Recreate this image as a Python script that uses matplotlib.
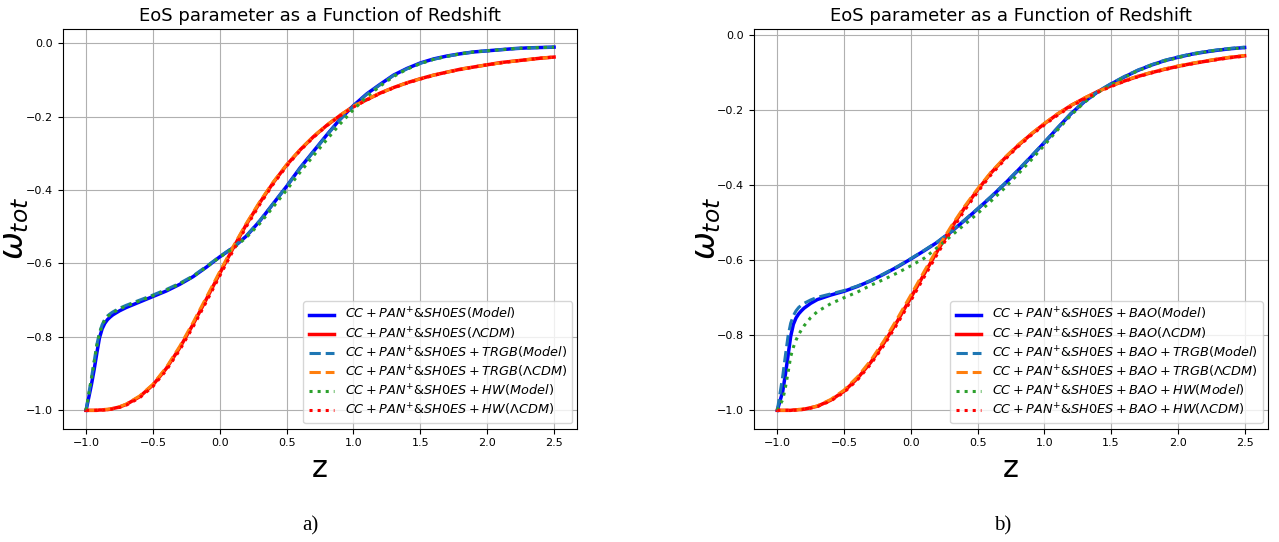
"""EoS parameter w_tot(z) for the two dataset combinations."""

import matplotlib
matplotlib.use("Agg")
import matplotlib.pyplot as plt

# redshift grid shared by every curve (denser near z = -1)
z = [-1.00, -0.98, -0.96, -0.94, -0.92, -0.90, -0.88, -0.86, -0.84, -0.82,
     -0.80, -0.75, -0.70, -0.60, -0.50, -0.40, -0.30, -0.20, -0.10, 0.00,
     0.10, 0.20, 0.30, 0.40, 0.50, 0.60, 0.70, 0.80, 0.90, 1.00,
     1.10, 1.20, 1.30, 1.40, 1.50, 1.60, 1.70, 1.80, 1.90, 2.00,
     2.10, 2.20, 2.30, 2.40, 2.50]

# panel a) CC + PAN+&SH0ES
w_a_model = [-1.000, -0.965, -0.930, -0.890, -0.845, -0.803, -0.778, -0.763, -0.753, -0.746,
             -0.740, -0.729, -0.720, -0.705, -0.690, -0.675, -0.657, -0.636, -0.610, -0.582,
             -0.557, -0.525, -0.484, -0.437, -0.390, -0.340, -0.295, -0.250, -0.207, -0.170,
             -0.138, -0.112, -0.087, -0.069, -0.054, -0.043, -0.035, -0.029, -0.024, -0.021,
             -0.018, -0.015, -0.013, -0.012, -0.011]
w_a_lcdm = [-1.000, -1.000, -1.000, -1.000, -1.000, -0.999, -0.999, -0.998, -0.998, -0.997,
            -0.995, -0.991, -0.984, -0.963, -0.931, -0.886, -0.830, -0.766, -0.697, -0.627,
            -0.558, -0.493, -0.434, -0.380, -0.332, -0.291, -0.255, -0.224, -0.197, -0.172,
            -0.154, -0.136, -0.121, -0.108, -0.097, -0.087, -0.079, -0.071, -0.065, -0.059,
            -0.053, -0.049, -0.045, -0.041, -0.038]
w_a_trgb_model = [-1.000, -0.955, -0.912, -0.868, -0.822, -0.789, -0.767, -0.752, -0.743, -0.737,
                  -0.732, -0.722, -0.714, -0.700, -0.686, -0.671, -0.654, -0.634, -0.608, -0.581,
                  -0.556, -0.524, -0.483, -0.437, -0.390, -0.341, -0.296, -0.251, -0.208, -0.171,
                  -0.139, -0.113, -0.088, -0.070, -0.055, -0.044, -0.036, -0.029, -0.024, -0.021,
                  -0.018, -0.015, -0.013, -0.012, -0.011]
w_a_trgb_lcdm = [-1.000, -1.000, -1.000, -1.000, -0.999, -0.999, -0.999, -0.998, -0.997, -0.996,
                 -0.995, -0.990, -0.983, -0.961, -0.929, -0.883, -0.826, -0.761, -0.692, -0.622,
                 -0.554, -0.490, -0.431, -0.378, -0.331, -0.290, -0.254, -0.223, -0.196, -0.172,
                 -0.153, -0.136, -0.121, -0.108, -0.097, -0.087, -0.079, -0.071, -0.065, -0.059,
                 -0.054, -0.049, -0.045, -0.041, -0.038]
w_a_hw_model = [-1.000, -0.957, -0.915, -0.870, -0.825, -0.791, -0.769, -0.754, -0.745, -0.739,
                -0.734, -0.724, -0.716, -0.702, -0.688, -0.673, -0.656, -0.636, -0.610, -0.583,
                -0.559, -0.529, -0.491, -0.446, -0.400, -0.352, -0.307, -0.263, -0.220, -0.181,
                -0.146, -0.117, -0.091, -0.071, -0.056, -0.044, -0.036, -0.029, -0.024, -0.021,
                -0.018, -0.015, -0.013, -0.012, -0.011]
w_a_hw_lcdm = [-1.000, -1.000, -1.000, -1.000, -1.000, -0.999, -0.999, -0.999, -0.998, -0.997,
               -0.996, -0.992, -0.986, -0.966, -0.935, -0.891, -0.836, -0.773, -0.704, -0.634,
               -0.565, -0.499, -0.439, -0.384, -0.335, -0.293, -0.257, -0.225, -0.198, -0.174,
               -0.155, -0.137, -0.122, -0.109, -0.098, -0.088, -0.079, -0.072, -0.065, -0.059,
               -0.054, -0.049, -0.045, -0.041, -0.038]

# panel b) CC + PAN+&SH0ES + BAO
w_b_model = [-1.000, -0.975, -0.950, -0.905, -0.855, -0.803, -0.771, -0.754, -0.743, -0.735,
             -0.728, -0.715, -0.705, -0.693, -0.683, -0.670, -0.655, -0.637, -0.618, -0.597,
             -0.575, -0.552, -0.525, -0.495, -0.464, -0.432, -0.398, -0.362, -0.325, -0.287,
             -0.248, -0.210, -0.178, -0.152, -0.131, -0.112, -0.095, -0.081, -0.069, -0.060,
             -0.052, -0.046, -0.041, -0.037, -0.034]
w_b_lcdm = [-1.000, -1.000, -1.000, -1.000, -1.000, -1.000, -0.999, -0.999, -0.998, -0.998,
            -0.997, -0.993, -0.989, -0.973, -0.949, -0.915, -0.872, -0.820, -0.762, -0.700,
            -0.637, -0.575, -0.516, -0.462, -0.413, -0.368, -0.330, -0.296, -0.265, -0.237,
            -0.211, -0.188, -0.169, -0.151, -0.136, -0.123, -0.111, -0.101, -0.092, -0.084,
            -0.077, -0.071, -0.065, -0.060, -0.056]
w_b_trgb_model = [-1.000, -0.955, -0.910, -0.855, -0.803, -0.768, -0.748, -0.735, -0.726, -0.720,
                  -0.715, -0.706, -0.699, -0.690, -0.681, -0.669, -0.654, -0.636, -0.617, -0.596,
                  -0.574, -0.551, -0.524, -0.494, -0.463, -0.431, -0.397, -0.361, -0.324, -0.286,
                  -0.247, -0.209, -0.177, -0.151, -0.130, -0.111, -0.094, -0.080, -0.068, -0.059,
                  -0.051, -0.045, -0.040, -0.036, -0.033]
w_b_trgb_lcdm = [-1.000, -1.000, -1.000, -1.000, -1.000, -0.999, -0.999, -0.999, -0.998, -0.997,
                 -0.996, -0.993, -0.988, -0.971, -0.946, -0.911, -0.867, -0.814, -0.755, -0.693,
                 -0.630, -0.569, -0.511, -0.458, -0.410, -0.366, -0.328, -0.294, -0.264, -0.236,
                 -0.210, -0.188, -0.168, -0.151, -0.136, -0.122, -0.110, -0.100, -0.091, -0.083,
                 -0.076, -0.070, -0.064, -0.059, -0.055]
w_b_hw_model = [-1.000, -0.985, -0.972, -0.940, -0.900, -0.857, -0.832, -0.813, -0.798, -0.786,
                -0.775, -0.753, -0.737, -0.716, -0.700, -0.685, -0.667, -0.651, -0.634, -0.615,
                -0.595, -0.566, -0.536, -0.506, -0.476, -0.443, -0.409, -0.372, -0.334, -0.294,
                -0.253, -0.214, -0.180, -0.154, -0.133, -0.113, -0.096, -0.082, -0.070, -0.061,
                -0.053, -0.046, -0.041, -0.037, -0.035]
w_b_hw_lcdm = [-1.000, -1.000, -1.000, -1.000, -1.000, -1.000, -1.000, -0.999, -0.999, -0.998,
               -0.997, -0.994, -0.990, -0.975, -0.952, -0.919, -0.877, -0.826, -0.769, -0.708,
               -0.645, -0.583, -0.524, -0.469, -0.419, -0.373, -0.334, -0.299, -0.268, -0.240,
               -0.214, -0.191, -0.171, -0.153, -0.138, -0.124, -0.112, -0.102, -0.093, -0.085,
               -0.078, -0.071, -0.066, -0.061, -0.057]

base_a = "$CC + PAN^{+}$&$SH0ES"
base_b = "$CC + PAN^{+}$&$SH0ES + BAO"

# (label suffix, color, linestyle, linewidth)
STYLES = [
    ("(Model)$", "blue", "-", 2.5),
    (r"(\Lambda CDM)$", "red", "-", 2.5),
    ("(Model)$", "tab:blue", "--", 2.2),
    (r"(\Lambda CDM)$", "tab:orange", "--", 2.2),
    ("(Model)$", "tab:green", ":", 2.2),
    (r"(\Lambda CDM)$", "red", ":", 2.2),
]


def draw_panel(ax, base, series):
    extras = ["", "", " + TRGB", " + TRGB", " + HW", " + HW"]
    for w, extra, (suffix, color, ls, lw) in zip(series, extras, STYLES):
        ax.plot(z, w, color=color, linestyle=ls, linewidth=lw,
                label=base + extra + suffix)
    ax.set_title("EoS parameter as a Function of Redshift", fontsize=13)
    ax.set_xlabel("z", fontsize=22)
    ax.set_ylabel(r"$\omega_{tot}$", fontsize=24)
    ax.yaxis.set_label_coords(-0.061, 0.5)
    ax.tick_params(labelsize=8)
    ax.grid(True)
    ax.legend(loc="lower right", fontsize=9.3, labelspacing=0.22,
              borderaxespad=0.4)


fig = plt.figure(figsize=(12.79, 5.42), dpi=100)
ax_a = fig.add_axes([0.049, 0.2094, 0.4025, 0.7371])
ax_b = fig.add_axes([0.5895, 0.2094, 0.4019, 0.7371])

draw_panel(ax_a, base_a, [w_a_model, w_a_lcdm, w_a_trgb_model,
                          w_a_trgb_lcdm, w_a_hw_model, w_a_hw_lcdm])
draw_panel(ax_b, base_b, [w_b_model, w_b_lcdm, w_b_trgb_model,
                          w_b_trgb_lcdm, w_b_hw_model, w_b_hw_lcdm])

fig.text(0.243, 0.022, "a)", fontsize=15, family="Liberation Serif", ha="center")
fig.text(0.784, 0.022, "b)", fontsize=15, family="Liberation Serif", ha="center")

fig.savefig("out.png", dpi=100)
plt.close(fig)
